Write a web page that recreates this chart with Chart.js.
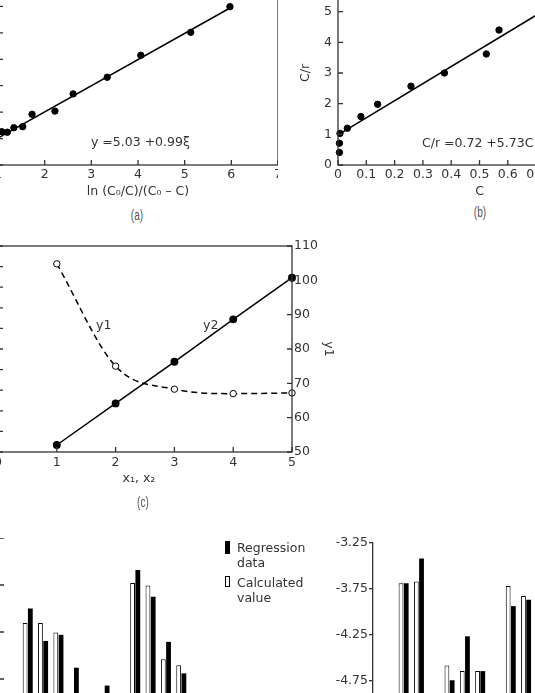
<!DOCTYPE html>
<html>
<head>
<meta charset="utf-8">
<script src="https://cdn.jsdelivr.net/npm/chart.js@4.4.0/dist/chart.umd.min.js"></script>
<style>
html, body { margin: 0; padding: 0; background: #fff; }
#page { position: relative; width: 535px; height: 693px; overflow: hidden; font-family: 'DejaVu Sans'; font-size: 12.5px; color: #333; }
.box { position: absolute; }
.txt { position: absolute; white-space: nowrap; line-height: 15px; }
.cap { position: absolute; width: 40px; text-align: center; font-family: 'Liberation Sans', 'DejaVu Sans'; font-size: 14px; line-height: 16px; color: #555; transform: scaleX(0.72); }
.key { position: absolute; width: 5px; box-sizing: border-box; border: 1px solid #000; }
</style>
</head>
<body>
<div id="page">
  <div class="box" style="left:-42px;top:-20px"><canvas id="chartA" width="320" height="219"></canvas></div>
  <div class="box" style="left:298px;top:-19px"><canvas id="chartB" width="323" height="218"></canvas></div>
  <div class="box" style="left:-42px;top:236px"><canvas id="chartC" width="378" height="249"></canvas></div>
  <div class="box" style="left:-43px;top:538px"><canvas id="chartD" width="255" height="188"></canvas></div>
  <div class="box" style="left:313px;top:533px"><canvas id="chartE" width="259" height="193"></canvas></div>

  <div class="txt" style="left:91px;top:134px">y =5.03 +0.99ξ</div>
  <div class="txt" style="left:422px;top:135px">C/r =0.72 +5.73C</div>
  <div class="txt" style="left:96px;top:317px">y1</div>
  <div class="txt" style="left:203px;top:317px">y2</div>
  <div class="txt" style="left:99px;top:470px;width:80px;text-align:center">x₁, x₂</div>

  <div class="cap" style="left:117px;top:207px">(a)</div>
  <div class="cap" style="left:460px;top:204px">(b)</div>
  <div class="cap" style="left:123px;top:494px">(c)</div>

  <!-- legend of the left bar chart -->
  <div class="key" style="left:225px;top:541px;height:13px;background:#000"></div>
  <div class="txt" style="left:237px;top:540px">Regression<br>data</div>
  <div class="key" style="left:225px;top:576px;height:11px;background:#fff"></div>
  <div class="txt" style="left:237px;top:575px">Calculated<br>value</div>
</div>

<script>
// ---- panel (a) ----
var aX = [1.08, 1.20, 1.34, 1.53, 1.73, 2.22, 2.61, 3.34, 4.06, 5.13, 5.97];
var aY = [6.26, 6.24, 6.41, 6.45, 6.92, 7.04, 7.69, 8.32, 9.15, 10.02, 10.99];
var aLineX = [1.0, 6.0];
var aLineY = [6.02, 10.97];

// ---- panel (b) ----
var bX = [0.005, 0.005, 0.007, 0.033, 0.081, 0.140, 0.258, 0.376, 0.524, 0.569];
var bY = [0.41, 0.71, 1.03, 1.20, 1.58, 1.98, 2.57, 3.00, 3.62, 4.40];
var bLineX = [0.0, 0.75];
var bLineY = [0.98, 5.16];

// ---- panel (c) ----
var cX = [1, 2, 3, 4, 5];
var cY1 = [104.8, 75.0, 68.3, 67.0, 67.2];
var cY2 = [3.4, 23.6, 43.8, 64.4, 84.6];

// ---- bar charts (category index, regression data, calculated value) ----
var dCat = [0, 1, 2, 3, 4, 5, 6, 7, 8, 9, 10];
var dReg = [2.50, 1.81, 1.94, 1.24, 0.60, 0.86, 0.60, 3.32, 2.75, 1.79, 1.12];
var dCalc = [2.19, 2.19, 1.99, 0.50, 0.50, 0.55, 0.50, 3.04, 2.99, 1.42, 1.29];

var eCat = [0, 1, 2, 3, 4, 5, 6, 7, 8];
var eReg = [-3.69, -3.42, -5.00, -4.75, -4.27, -4.65, -5.00, -3.94, -3.87];
var eCalc = [-3.69, -3.67, -5.00, -4.59, -4.65, -4.65, -5.00, -3.72, -3.83];

var INK = '#333';
Chart.defaults.font.family = 'DejaVu Sans';
Chart.defaults.font.size = 12.5;
Chart.defaults.color = INK;

function pts(xs, ys) {
    return xs.map(function(x, i) { return {x: x, y: ys[i]}; });
}

// fix the size of an axis so the plot areas land where they should
function fix(size) {
    return function(scale) {
        if (scale.isHorizontal()) scale.height = size; else scale.width = size;
        scale.paddingLeft = scale.paddingRight = scale.paddingTop = scale.paddingBottom = 0;
    };
}

// frame around the plot and tick marks pointing into it
var decor = {
    id: 'decor',
    afterDraw: function(chart, args, opts) {
        var ctx = chart.ctx, a = chart.chartArea;
        ctx.save();
        ctx.strokeStyle = INK;
        ctx.lineWidth = 1.3;
        if (opts.box) ctx.strokeRect(a.left, a.top, a.right - a.left, a.bottom - a.top);
        var inner = opts.inner || {};
        Object.keys(inner).forEach(function(id) {
            var s = chart.scales[id], len = inner[id];
            ctx.beginPath();
            s.ticks.forEach(function(t) {
                var p = s.getPixelForValue(t.value);
                if (s.isHorizontal()) { ctx.moveTo(p, a.bottom); ctx.lineTo(p, a.bottom - len); }
                else if (s.position === 'right') { ctx.moveTo(a.right, p); ctx.lineTo(a.right - len, p); }
                else { ctx.moveTo(a.left, p); ctx.lineTo(a.left + len, p); }
            });
            ctx.stroke();
        });
        ctx.restore();
    }
};

var noGrid = {display: false, drawTicks: false};
var noBorder = {display: false};

function baseOptions(decorOpts, scales, top) {
    return {
        responsive: false,
        animation: false,
        layout: {autoPadding: false, padding: {top: top || 0, left: 0, right: 0, bottom: 0}},
        plugins: {legend: {display: false}, tooltip: {enabled: false}, decor: decorOpts},
        scales: scales
    };
}

// (a)
new Chart(document.getElementById('chartA'), {
    type: 'scatter',
    data: {datasets: [
        {data: pts(aX, aY), pointRadius: 3.2, backgroundColor: '#000', borderColor: '#000', clip: false},
        {data: pts(aLineX, aLineY), showLine: true, pointRadius: 0, borderColor: '#000', borderWidth: 1.5}
    ]},
    options: baseOptions({box: true, inner: {x: 5, y: 5}}, {
        x: {min: 1, max: 7, ticks: {stepSize: 1, padding: 2}, grid: noGrid, border: noBorder,
            title: {display: true, text: 'ln (C₀/C)/(C₀ – C)', padding: 0}, afterFit: fix(34)},
        y: {min: 5, max: 12, ticks: {stepSize: 1, padding: 6}, grid: noGrid, border: noBorder, afterFit: fix(40)}
    }),
    plugins: [decor]
});

// (b)
new Chart(document.getElementById('chartB'), {
    type: 'scatter',
    data: {datasets: [
        {data: pts(bX, bY), pointRadius: 3.2, backgroundColor: '#000', borderColor: '#000', clip: false},
        {data: pts(bLineX, bLineY), showLine: true, pointRadius: 0, borderColor: '#000', borderWidth: 1.5}
    ]},
    options: baseOptions({box: true, inner: {x: 5, y: 5}}, {
        x: {min: 0, max: 1, ticks: {stepSize: 0.1, padding: 2}, grid: noGrid, border: noBorder,
            title: {display: true, text: 'C', padding: 0}, afterFit: fix(34)},
        y: {min: 0, max: 6, ticks: {stepSize: 1, padding: 6}, grid: noGrid, border: noBorder,
            title: {display: true, text: 'C/r', padding: 0}, afterFit: fix(40)}
    }),
    plugins: [decor]
});

// (c)
new Chart(document.getElementById('chartC'), {
    type: 'line',
    data: {datasets: [
        {data: pts(cX, cY1), yAxisID: 'y1', borderColor: '#000', borderWidth: 1.5, borderDash: [6, 4],
         cubicInterpolationMode: 'monotone', pointRadius: 3.2, pointBackgroundColor: '#fff',
         pointBorderColor: '#000', pointBorderWidth: 1, clip: false},
        {data: pts(cX, cY2), yAxisID: 'y2', borderColor: '#000', borderWidth: 1.5,
         pointRadius: 3.2, pointBackgroundColor: '#000', pointBorderColor: '#000', clip: false}
    ]},
    options: baseOptions({box: true, inner: {x: 5, y2: 5, y1: 5}}, {
        x: {type: 'linear', min: 0, max: 5, ticks: {stepSize: 1, padding: 3}, grid: noGrid, border: noBorder, afterFit: fix(33)},
        y2: {type: 'linear', position: 'left', min: 0, max: 100, ticks: {stepSize: 10, padding: 6},
             grid: noGrid, border: noBorder, afterFit: fix(40)},
        y1: {type: 'linear', position: 'right', min: 50, max: 110, ticks: {stepSize: 10, padding: 2},
             grid: noGrid, border: noBorder, title: {display: true, text: 'y1', padding: 0}, afterFit: fix(44)}
    }, 10),
    plugins: [decor]
});

// bottom left bars
new Chart(document.getElementById('chartD'), {
    type: 'bar',
    data: {datasets: [
        {data: pts(dCat, dCalc), backgroundColor: '#fff', borderColor: '#000', borderWidth: 1},
        {data: pts(dCat, dReg), backgroundColor: '#000', borderWidth: 0}
    ]},
    options: Object.assign(baseOptions({inner: {y: 7}}, {
        x: {type: 'linear', display: false, offset: false, min: -2, max: 12, ticks: {stepSize: 1}},
        y: {min: 0, max: 4, ticks: {stepSize: 1}, grid: noGrid, border: noBorder, afterFit: fix(40)}
    }), {datasets: {bar: {categoryPercentage: 0.68, barPercentage: 0.92}}}),
    plugins: [decor]
});

// bottom right bars
new Chart(document.getElementById('chartE'), {
    type: 'bar',
    data: {datasets: [
        {data: pts(eCat, eCalc), base: -5.25, backgroundColor: '#fff', borderColor: '#000', borderWidth: 1},
        {data: pts(eCat, eReg), base: -5.25, backgroundColor: '#000', borderWidth: 0}
    ]},
    options: Object.assign(baseOptions({}, {
        x: {type: 'linear', display: false, offset: false, min: -2, max: 11, ticks: {stepSize: 1}},
        y: {min: -5.25, max: -3.25,
            ticks: {stepSize: 0.5, padding: 1, callback: function(v) { return v.toFixed(2); }},
            grid: {display: true, drawOnChartArea: false, drawTicks: true, tickLength: 4, color: INK, lineWidth: 1.3},
            border: {display: true, color: INK, width: 1.3}, afterFit: fix(60)}
    }, 10), {datasets: {bar: {categoryPercentage: 0.68, barPercentage: 0.92}}}),
    plugins: [decor]
});
</script>
</body>
</html>
